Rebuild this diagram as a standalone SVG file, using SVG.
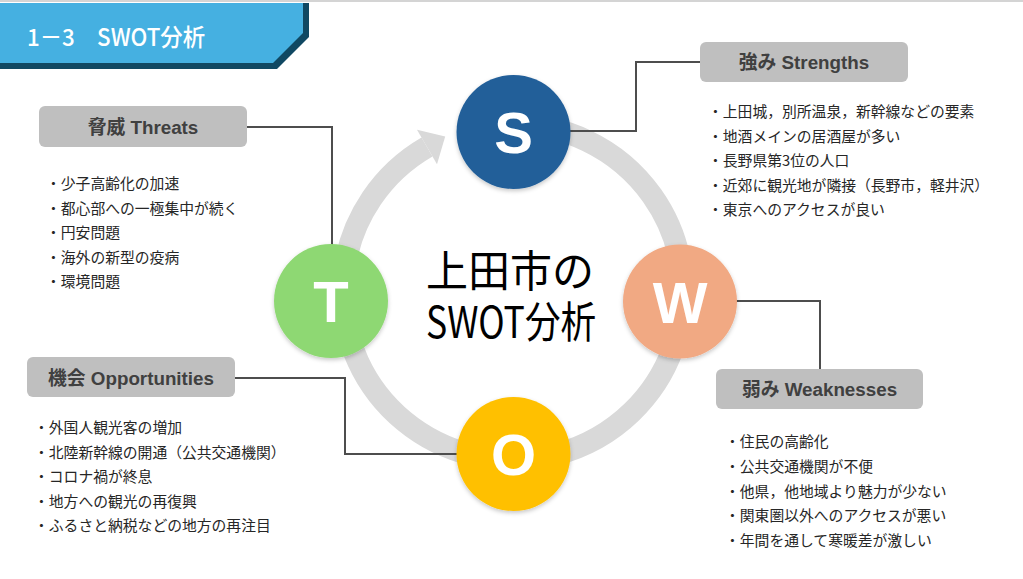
<svg xmlns="http://www.w3.org/2000/svg" width="1023" height="579" viewBox="0 0 1023 579">
<defs>
<style>
.lbl{font-family:"Liberation Sans","Noto Sans CJK JP",sans-serif;font-weight:bold;font-size:18.8px;fill:#404040;text-anchor:middle}
.box{fill:#BFBFBF}
.list{font-family:"Noto Sans CJK JP","Noto Sans",sans-serif;font-size:14.8px;fill:#262626}
.conn{fill:none;stroke:#4D4D4D;stroke-width:2}
.letter{font-family:"Liberation Sans","Noto Sans",sans-serif;font-weight:bold;font-size:58px;fill:#FFFFFF;text-anchor:middle}
.center{font-family:"Noto Sans CJK JP",sans-serif;font-size:43px;fill:#000000}
</style>
<filter id="sh" x="-20%" y="-20%" width="140%" height="150%">
<feDropShadow dx="0" dy="2" stdDeviation="2" flood-color="#000000" flood-opacity="0.22"/>
</filter>
</defs>
<rect x="0" y="0" width="1023" height="579" fill="#FFFFFF"/>
<rect x="0" y="0" width="1023" height="2" fill="#D4D4D4"/>

<g id="title">
<polygon points="0,3 309,3 309,37 277,69 0,69" fill="#104862"/>
<polygon points="0,3 303,3 303,33 273,63 0,63" fill="#45B0E1"/>
<text x="27" y="46" font-family="'Noto Sans CJK JP',sans-serif" font-weight="500" font-size="24" fill="#FFFFFF" textLength="178" lengthAdjust="spacingAndGlyphs">1－3　SWOT分析</text>
</g>

<g id="cycle">
<path d="M 513,124 A 170,168 0 1,1 427,147" fill="none" stroke="#D9D9D9" stroke-width="22"/>
<polygon points="417,129.7 445.2,136.5 437,164.3" fill="#D9D9D9"/>
</g>

<g id="center-label">
<text class="center" x="426" y="287" textLength="168" lengthAdjust="spacingAndGlyphs">上田市の</text>
<text class="center" x="426" y="338" textLength="170" lengthAdjust="spacingAndGlyphs">SWOT分析</text>
</g>

<g id="connectors">
<polyline class="conn" points="566,131 636,131 636,62 700,62"/>
<polyline class="conn" points="247,127 332,127 332,246"/>
<polyline class="conn" points="235,378 345,378 345,454 460,454"/>
<polyline class="conn" points="735,301 820,301 820,369"/>
</g>

<g id="node-S">
<circle cx="513.5" cy="132" r="57" fill="#215E99" filter="url(#sh)"/>
<text class="letter" x="513.5" y="153">S</text>
</g>
<g id="node-W">
<circle cx="680" cy="301.5" r="57" fill="#F1A983" filter="url(#sh)"/>
<text class="letter" x="680" y="322.5">W</text>
</g>
<g id="node-O">
<circle cx="513.5" cy="454" r="57" fill="#FFC000" filter="url(#sh)"/>
<text class="letter" x="513.5" y="475">O</text>
</g>
<g id="node-T">
<circle cx="331" cy="301" r="57" fill="#8ED873" filter="url(#sh)"/>
<text class="letter" x="331" y="322">T</text>
</g>

<g id="strengths">
<rect class="box" x="700" y="42" width="208" height="40" rx="6"/>
<text class="lbl" x="804" y="69">強み Strengths</text>
<text class="list" x="708" y="117">・上田城，別所温泉，新幹線などの要素</text>
<text class="list" x="708" y="141.5">・地酒メインの居酒屋が多い</text>
<text class="list" x="708" y="166">・長野県第3位の人口</text>
<text class="list" x="708" y="190.5">・近郊に観光地が隣接（長野市，軽井沢）</text>
<text class="list" x="708" y="215">・東京へのアクセスが良い</text>
</g>

<g id="weaknesses">
<rect class="box" x="716" y="369" width="207" height="40" rx="6"/>
<text class="lbl" x="819.5" y="396">弱み Weaknesses</text>
<text class="list" x="725" y="447">・住民の高齢化</text>
<text class="list" x="725" y="472">・公共交通機関が不便</text>
<text class="list" x="725" y="497">・他県，他地域より魅力が少ない</text>
<text class="list" x="725" y="521">・関東圏以外へのアクセスが悪い</text>
<text class="list" x="725" y="546">・年間を通して寒暖差が激しい</text>
</g>

<g id="threats">
<rect class="box" x="39" y="106" width="208" height="41" rx="6"/>
<text class="lbl" x="143" y="133.5">脅威 Threats</text>
<text class="list" x="46" y="189">・少子高齢化の加速</text>
<text class="list" x="46" y="213.5">・都心部への一極集中が続く</text>
<text class="list" x="46" y="238">・円安問題</text>
<text class="list" x="46" y="262.5">・海外の新型の疫病</text>
<text class="list" x="46" y="287">・環境問題</text>
</g>

<g id="opportunities">
<rect class="box" x="27" y="357" width="208" height="40" rx="6"/>
<text class="lbl" x="131" y="384.5">機会 Opportunities</text>
<text class="list" x="34" y="433">・外国人観光客の増加</text>
<text class="list" x="34" y="457.5">・北陸新幹線の開通（公共交通機関）</text>
<text class="list" x="34" y="482">・コロナ禍が終息</text>
<text class="list" x="34" y="506.5">・地方への観光の再復興</text>
<text class="list" x="34" y="531">・ふるさと納税などの地方の再注目</text>
</g>
</svg>
